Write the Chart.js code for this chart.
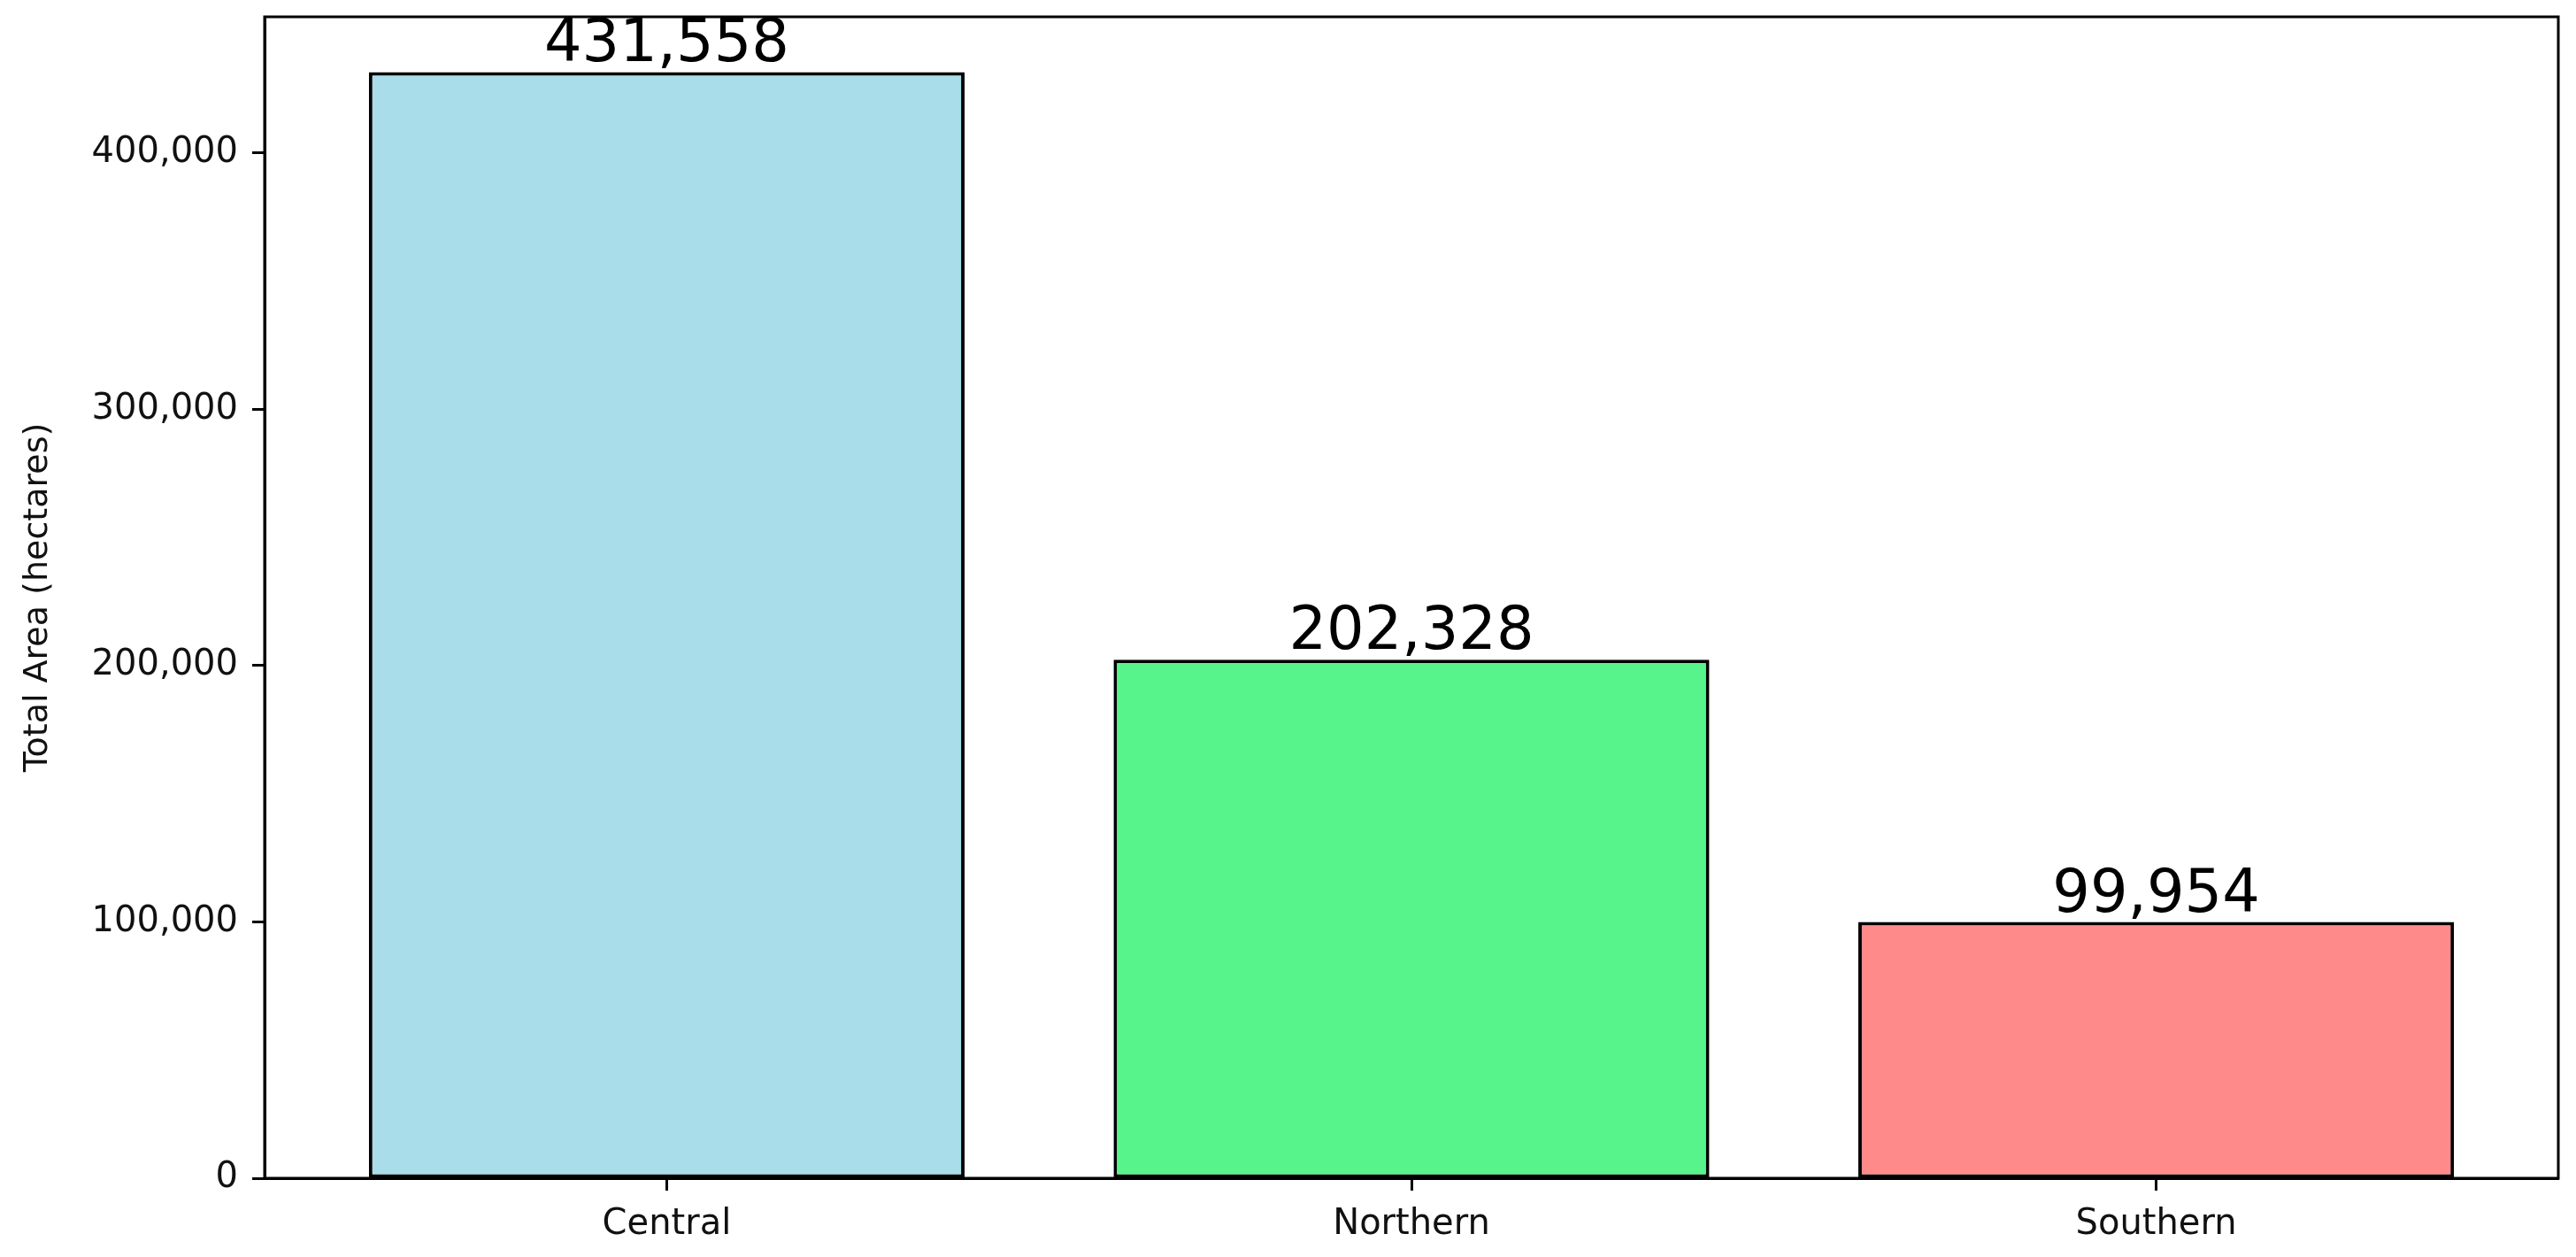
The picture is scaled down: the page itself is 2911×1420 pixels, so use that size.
<!DOCTYPE html>
<html>
<head>
<meta charset="utf-8">
<script src="https://cdn.jsdelivr.net/npm/chart.js@4.4.1/dist/chart.umd.min.js"></script>
<style>
  html, body { margin: 0; padding: 0; background: #fff; }
</style>
</head>
<body>
<canvas id="area-chart" width="2911" height="1420"></canvas>
<script>
// Data
const regions = ["Central", "Northern", "Southern"];
const regionPositions = [0, 1, 2];
const totalArea = [431558, 202328, 99954];
const barColors = ["#a8dde9", "#57f38b", "#ff8a8a"];
const yTicks = [0, 100000, 200000, 300000, 400000];

const fontFamily = "'DejaVu Sans', 'Liberation Sans', sans-serif";
const fmt = (v) => v.toLocaleString("en-US");

// Box round the plot area (matplotlib style spines)
const frame = {
  id: "frame",
  beforeDatasetsDraw(chart) {
    const { ctx, chartArea: a } = chart;
    ctx.save();
    ctx.strokeStyle = "#000";
    ctx.lineWidth = 3;
    ctx.strokeRect(a.left, a.top, a.right - a.left, a.bottom - a.top);
    ctx.restore();
  },
};

// Value labels above each bar
const valueLabels = {
  id: "valueLabels",
  afterDatasetsDraw(chart) {
    const ctx = chart.ctx;
    const meta = chart.getDatasetMeta(0);
    ctx.save();
    ctx.font = "67px " + fontFamily;
    ctx.fillStyle = "#000";
    ctx.textAlign = "center";
    ctx.textBaseline = "alphabetic";
    meta.data.forEach((bar, i) => {
      ctx.fillText(fmt(totalArea[i]), bar.x, bar.y - 12);
    });
    ctx.restore();
  },
};

new Chart(document.getElementById("area-chart").getContext("2d"), {
  type: "bar",
  data: {
    datasets: [
      {
        data: regionPositions.map((x, i) => ({ x: x, y: totalArea[i] })),
        backgroundColor: barColors,
        borderColor: "#000",
        borderWidth: 4,
        borderSkipped: false,
        barPercentage: 0.8,
        categoryPercentage: 1.0,
      },
    ],
  },
  options: {
    responsive: false,
    animation: false,
    devicePixelRatio: 1,
    layout: { padding: { top: 19, right: 20, left: 0, bottom: 0 } },
    plugins: {
      legend: { display: false },
      tooltip: { enabled: false },
    },
    scales: {
      x: {
        type: "linear",
        min: -0.54,
        max: 2.54,
        offset: false,
        afterBuildTicks: (scale) => {
          scale.ticks = regionPositions.map((v) => ({ value: v }));
        },
        afterFit: (scale) => {
          scale.height = 89;
          scale.paddingLeft = 0;
          scale.paddingRight = 0;
        },
        ticks: {
          color: "#111",
          font: { family: fontFamily, size: 40 },
          padding: 15,
          maxRotation: 0,
          autoSkip: false,
          callback: (v) => regions[v],
        },
        grid: {
          offset: false,
          drawOnChartArea: false,
          drawTicks: true,
          tickLength: 14,
          tickWidth: 3,
          tickColor: "#000",
        },
        border: { display: true, color: "#000", width: 3 },
      },
      y: {
        min: 0,
        max: 453136,
        afterBuildTicks: (scale) => {
          scale.ticks = yTicks.map((v) => ({ value: v }));
        },
        afterFit: (scale) => {
          scale.width = 299;
          scale.paddingTop = 0;
          scale.paddingBottom = 0;
        },
        ticks: {
          color: "#111",
          font: { family: fontFamily, size: 40 },
          padding: 16,
          callback: (v) => fmt(v),
        },
        grid: {
          drawOnChartArea: false,
          drawTicks: true,
          tickLength: 14,
          tickWidth: 3,
          tickColor: "#000",
        },
        border: { display: true, color: "#000", width: 3 },
        title: {
          display: true,
          text: "Total Area (hectares)",
          color: "#111",
          font: { family: fontFamily, size: 38 },
          padding: { top: 20, bottom: 0 },
        },
      },
    },
  },
  plugins: [frame, valueLabels],
});
</script>
</body>
</html>
